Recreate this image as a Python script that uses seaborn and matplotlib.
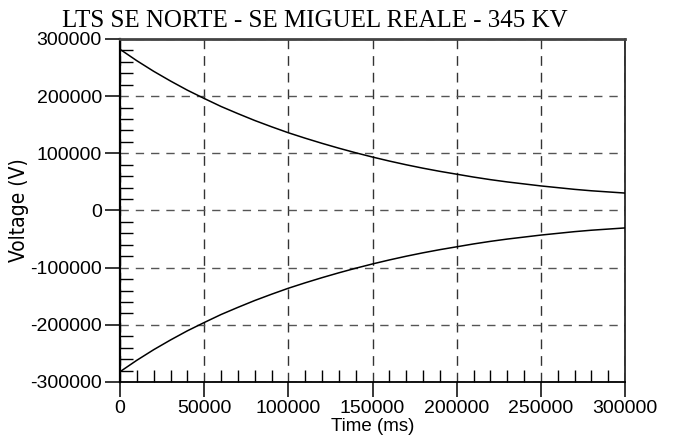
import pandas as pd
import matplotlib
matplotlib.use("Agg")
import matplotlib.pyplot as plt
import seaborn as sns
from matplotlib.ticker import MultipleLocator

# Values
time_ms = [0, 10000, 20000, 30000, 40000, 50000, 60000, 70000, 80000, 90000,
           100000, 110000, 120000, 130000, 140000, 150000, 160000, 170000, 180000, 190000,
           200000, 210000, 220000, 230000, 240000, 250000, 260000, 270000, 280000, 290000,
           300000]
upper_v = [282000, 262000, 243500, 226500, 210500, 196000, 182000, 169500, 157500, 146500,
           136000, 126500, 117500, 109000, 101000, 93500, 86500, 80000, 74000, 68500,
           63500, 58500, 54000, 50000, 46500, 43000, 40000, 37000, 34500, 32500,
           30500]
lower_v = [-282000, -262000, -243500, -226500, -210500, -196000, -182000, -169500, -157500, -146500,
           -136000, -126500, -117500, -109000, -101000, -93500, -86500, -80000, -74000, -68500,
           -63500, -58500, -54000, -50000, -46500, -43000, -40000, -37000, -34500, -32500,
           -30500]

title = 'LTS SE NORTE - SE MIGUEL REALE - 345 KV'

df = pd.DataFrame({
    'time': time_ms * 2,
    'voltage': upper_v + lower_v,
    'branch': ['upper'] * len(time_ms) + ['lower'] * len(time_ms),
})

sns.set_theme(style="white")
plt.rcParams['font.family'] = ['Liberation Sans', 'DejaVu Sans']
plt.rcParams['axes.unicode_minus'] = False

fig = plt.figure(figsize=(6.73, 4.36), dpi=100)
ax = fig.add_axes([120 / 673, 1 - 382 / 436, 505 / 673, 343 / 436])

sns.lineplot(data=df, x='time', y='voltage', units='branch', estimator=None,
             color='black', linewidth=1.1, ax=ax, legend=False)

ax.set_xlim(0, 300000)
ax.set_ylim(-300000, 300000)
ax.xaxis.set_major_locator(MultipleLocator(50000))
ax.xaxis.set_minor_locator(MultipleLocator(10000))
ax.yaxis.set_major_locator(MultipleLocator(100000))
ax.yaxis.set_minor_locator(MultipleLocator(20000))

ax.tick_params(which='both', bottom=True, left=True, top=False, right=False)
ax.tick_params(which='major', direction='out', length=11, width=1.1, color='black',
               labelsize=14, labelcolor='black', pad=2)
ax.tick_params(which='minor', direction='in', length=9, width=1.0, color='black')

# dashed grid on major ticks
ax.grid(True, which='major', axis='y', linestyle=(0, (6, 5)), color='#555555', linewidth=1.0)
ax.grid(True, which='major', axis='x', linestyle=(0, (7, 5)), color='#333333', linewidth=1.0)

ax.spines['left'].set_color('black')
ax.spines['left'].set_linewidth(1.6)
ax.spines['bottom'].set_color('black')
ax.spines['bottom'].set_linewidth(1.3)
ax.spines['top'].set_color('#444444')
ax.spines['top'].set_linewidth(2.0)
ax.spines['right'].set_color('black')
ax.spines['right'].set_linewidth(1.1)

fig.text(314.5 / 673, 1 - 27 / 436, title, family=['Liberation Serif', 'DejaVu Serif'],
         fontsize=18, color='black', ha='center', va='baseline')

ax.set_xlabel('Time (ms)', fontsize=13.5, color='black')
ax.xaxis.set_label_coords(0.5, -0.105)
ax.set_ylabel('Voltage (V)', family='DejaVu Sans', fontstretch='condensed',
              fontsize=15, color='black')
ax.yaxis.set_label_coords(-0.18, 0.5)

fig.savefig('out.png', dpi=100)
